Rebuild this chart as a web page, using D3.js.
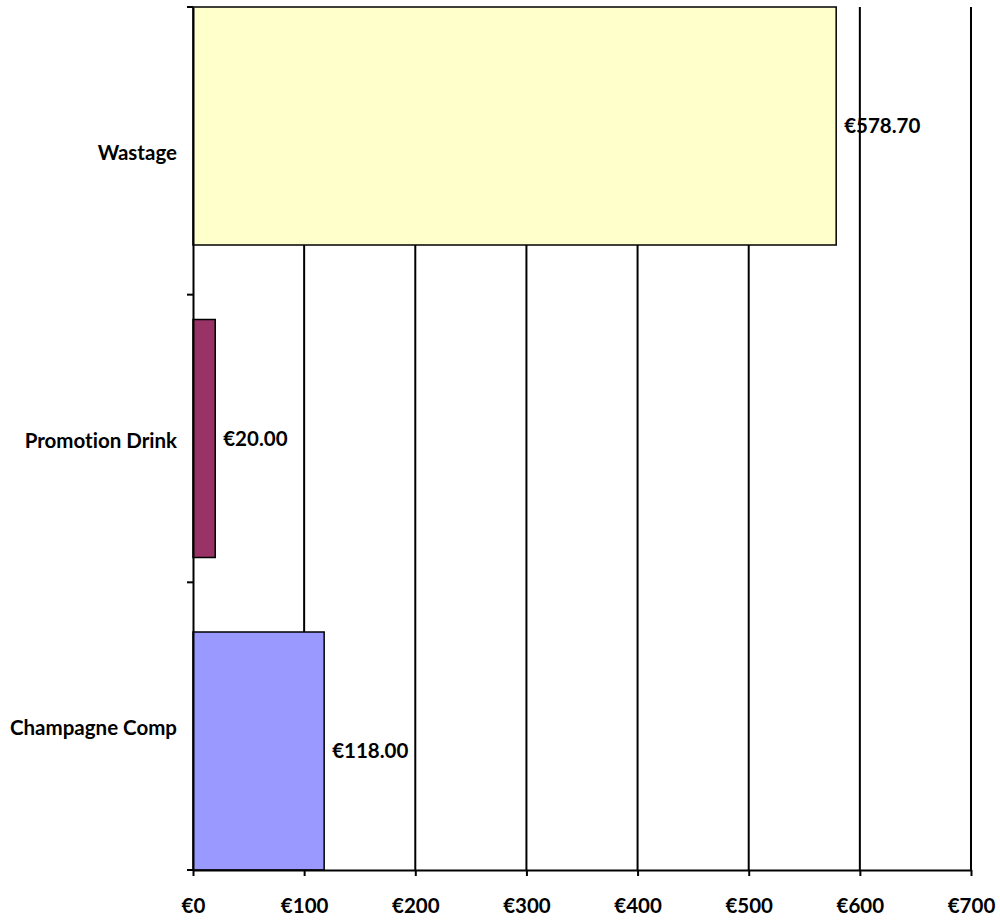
<!DOCTYPE html>
<html><head><meta charset="utf-8">
<script src="https://cdn.jsdelivr.net/npm/d3@7"></script>
<style>body{margin:0;background:#fff}svg text{font-family:Lato,"Open Sans",sans-serif;font-weight:bold;fill:#000;font-variant-ligatures:none;font-feature-settings:"liga" 0}</style>
</head><body>
<svg id="c" width="1000" height="920"></svg>
<script>
const categories = ["Wastage", "Promotion Drink", "Champagne Comp"];
const values = [578.70, 20.00, 118.00];
const colors = ["#FFFFCC", "#993366", "#9999FF"];
const xTicks = [0, 100, 200, 300, 400, 500, 600, 700];

const svg = d3.select("#c");
const mLeft = 193, mRight = 971, mTop = 7, mBottom = 870;
const fs = 20.5;
const x = d3.scaleLinear().domain([0, 700]).range([mLeft, mRight]);
const y = d3.scaleBand().domain(categories).range([mTop, mBottom]).paddingInner(0);
const barH = 238;
const offset = d3.scalePoint().domain(d3.range(categories.length)).range([0, y.bandwidth() - barH]);
const euro = v => "€" + v;

// gridlines
svg.append("g").selectAll("line").data(xTicks.filter(t => t > 0)).join("line")
  .attr("x1", d => x(d)).attr("x2", d => x(d)).attr("y1", mTop).attr("y2", mBottom)
  .attr("stroke", "#000").attr("stroke-width", 2);

// bars
const data = categories.map((c, i) => ({c, v: values[i], i, col: colors[i]}));
svg.append("g").selectAll("rect").data(data).join("rect")
  .attr("x", x(0)).attr("y", d => y(d.c) + offset(d.i))
  .attr("width", d => x(d.v) - x(0)).attr("height", barH)
  .attr("fill", d => d.col).attr("stroke", "#000").attr("stroke-width", 1.5);

// value labels
svg.append("g").selectAll("text").data(data).join("text")
  .attr("x", d => x(d.v) + 8).attr("y", d => y(d.c) + offset(d.i) + barH / 2)
  .attr("dy", "0.35em").attr("font-size", fs).text(d => "€" + d.v.toFixed(2));

// x axis
const xa = svg.append("g").attr("transform", `translate(0,${mBottom})`)
  .call(d3.axisBottom(x).tickValues(xTicks).tickFormat(euro).tickSizeInner(6).tickSizeOuter(0).tickPadding(22));
xa.select(".domain").attr("stroke", "#000").attr("stroke-width", 2);
xa.selectAll(".tick line").attr("stroke", "#000").attr("stroke-width", 2);
xa.selectAll("text").attr("font-size", fs).attr("font-family", "Lato, sans-serif").attr("font-weight", "bold");

// y axis
const ya = svg.append("g").attr("transform", `translate(${mLeft},0)`)
  .call(d3.axisLeft(y).tickSize(0).tickPadding(16));
ya.select(".domain").attr("stroke", "#000").attr("stroke-width", 2);
ya.selectAll("text").attr("font-size", fs).attr("font-family", "Lato, sans-serif").attr("font-weight", "bold").attr("dy", "0.45em");
// y category separator ticks
const sep = categories.map(c => y(c)).concat([mBottom]);
svg.append("g").selectAll("line").data(sep).join("line")
  .attr("x1", mLeft - 6).attr("x2", mLeft).attr("y1", d => d).attr("y2", d => d)
  .attr("stroke", "#000").attr("stroke-width", 2);
</script>
</body></html>
